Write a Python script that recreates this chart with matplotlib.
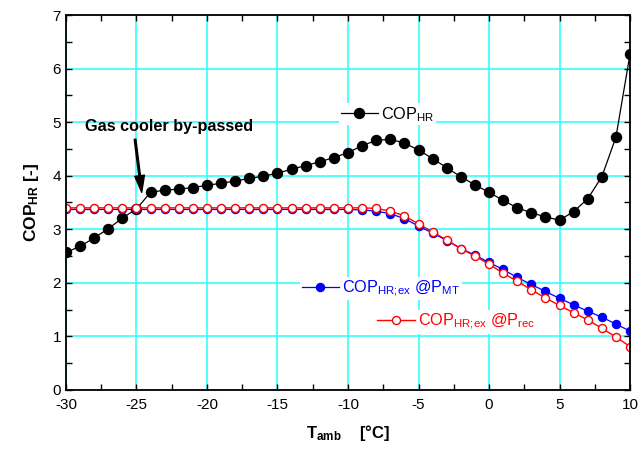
import numpy as np
import matplotlib.pyplot as plt
from matplotlib.ticker import MultipleLocator

plt.rcParams['font.family'] = ['Liberation Sans', 'DejaVu Sans']
plt.rcParams['mathtext.fontset'] = 'custom'
plt.rcParams['mathtext.rm'] = 'Liberation Sans'
plt.rcParams['mathtext.it'] = 'Liberation Sans:italic'
plt.rcParams['mathtext.bf'] = 'Liberation Sans:bold'
plt.rcParams['axes.unicode_minus'] = False

# Ambient temperature, every 1 degC
t_amb = list(range(-30, 11))

cop_hr = [2.57, 2.68, 2.84, 3.01, 3.21, 3.38, 3.69, 3.73, 3.75, 3.78,
          3.82, 3.86, 3.90, 3.95, 3.99, 4.05, 4.12, 4.19, 4.26, 4.34,
          4.43, 4.56, 4.66, 4.68, 4.61, 4.48, 4.32, 4.15, 3.98, 3.83,
          3.69, 3.54, 3.40, 3.31, 3.23, 3.17, 3.33, 3.57, 3.98, 4.72,
          6.27]

cop_ex_mt = [3.37] * 21 + [3.36, 3.34, 3.29, 3.20, 3.06, 2.93, 2.79, 2.64, 2.52,
                           2.38, 2.25, 2.10, 1.97, 1.84, 1.71, 1.59, 1.47, 1.36,
                           1.23, 1.10]

cop_ex_rec = [3.40] * 21 + [3.40, 3.39, 3.34, 3.25, 3.10, 2.95, 2.80, 2.64, 2.50,
                            2.35, 2.18, 2.03, 1.87, 1.72, 1.58, 1.44, 1.31, 1.15,
                            0.99, 0.81]

fig = plt.figure(figsize=(6.38, 4.51), dpi=100)
ax = fig.add_axes([0.1034, 0.1353, 0.8841, 0.8314])

l1, = ax.plot(t_amb, cop_hr, color='black', linewidth=0.9, marker='o',
              markersize=7.2, markerfacecolor='black', markeredgecolor='black')
l2, = ax.plot(t_amb, cop_ex_mt, color='blue', linewidth=0.9, marker='o',
              markersize=5.8, markerfacecolor='blue', markeredgecolor='blue')
l3, = ax.plot(t_amb, cop_ex_rec, color='red', linewidth=1.0, marker='o',
              markersize=5.8, markerfacecolor='white', markeredgecolor='red',
              markeredgewidth=1.0)

ax.set_xlim(-30, 10)
ax.set_ylim(0, 7)
ax.xaxis.set_major_locator(MultipleLocator(5))
ax.xaxis.set_minor_locator(MultipleLocator(2.5))
ax.yaxis.set_major_locator(MultipleLocator(1))
ax.yaxis.set_minor_locator(MultipleLocator(0.5))
ax.tick_params(which='both', direction='in', top=True, right=True,
               length=4, width=1, labelsize=11, colors='black')
ax.tick_params(axis='x', pad=6)
ax.grid(True, which='major', color='#33FFFF', linewidth=1.2)
ax.set_axisbelow(True)
for s in ax.spines.values():
    s.set_linewidth(1.3)

ax.set_xlabel(r'$\mathbf{T_{amb}}$    [°C]', fontsize=12, fontweight='bold',
              labelpad=8)
ax.set_ylabel(r'$\mathbf{COP_{HR}}$ [-]', fontsize=12.5, fontweight='bold',
              labelpad=8)

# in-plot legend entries
def entry(handle, label, x, y, color):
    leg = ax.legend([handle], [label], loc='center left', bbox_to_anchor=(x, y),
                    frameon=True, fancybox=False, edgecolor='none',
                    facecolor='white', framealpha=1, fontsize=11.7,
                    handlelength=2.3, handletextpad=0.2, borderpad=0.1,
                    borderaxespad=0, labelcolor=color)
    ax.add_artist(leg)

entry(l1, r'COP$_{\mathrm{HR}}$', 0.484, 0.735, 'black')
entry(l2, r'COP$_{\mathrm{HR;\!ex}}$ @P$_{\mathrm{MT}}$', 0.415, 0.271, 'blue')
entry(l3, r'COP$_{\mathrm{HR;\!ex}}$ @P$_{\mathrm{rec}}$', 0.549, 0.182, 'red')

ax.text(-28.65, 4.91, 'Gas cooler by-passed', fontsize=11.7, fontweight='bold',
        ha='left', va='center')
ax.annotate('', xy=(-24.63, 3.69), xytext=(-25.1, 4.68),
            arrowprops=dict(facecolor='black', edgecolor='black', width=1.2,
                            headwidth=7, headlength=12, shrink=0))

fig.savefig('out.png')
